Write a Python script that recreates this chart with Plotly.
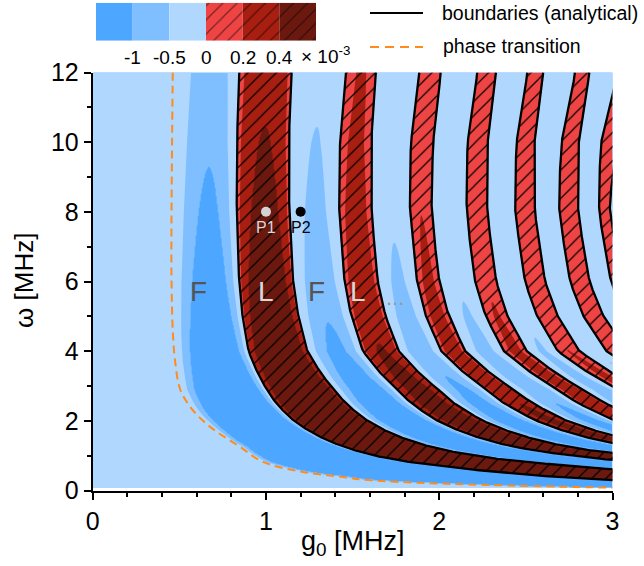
import numpy as np
import plotly.graph_objects as go

# ---------------- values ----------------
# phase transition (orange dashed curve): omega [MHz] and g0 [MHz]
trans_omega = [12.0, 10.0, 8.0, 6.0, 4.5, 3.7, 2.9, 2.4, 2.0, 1.68, 1.25, 0.82, 0.53, 0.39, 0.31, 0.20, 0.08]
trans_g0 = [0.462, 0.458, 0.455, 0.455, 0.463, 0.476, 0.505, 0.563, 0.637, 0.718, 0.851, 0.983,
            1.214, 1.445, 1.56, 2.005, 3.0]

# inner (left / lower) boundary of the first L band
l1_omega = [12, 10, 8, 6, 5, 4, 3.25, 2.5, 2.02, 1.45, 1.11, 0.89, 0.68, 0.5, 0.3]
l1_g0 = [0.846, 0.832, 0.831, 0.845, 0.865, 0.90, 0.965, 1.06, 1.158, 1.35, 1.542, 1.735, 2.062, 2.4, 3.0]

# boundary crossings (left edge, right edge of L1 ... L7) along omega = 8 and omega = 12 MHz
edges_at_8 = [0.831, 1.134, 1.423, 1.61, 1.831, 1.956, 2.158, 2.277,
              2.439, 2.552, 2.693, 2.802, 2.923, 2.985]
edges_at_12 = [0.846, 1.148, 1.462, 1.634, 1.885, 2.008, 2.219, 2.327,
               2.508, 2.60, 2.783, 2.866, 3.03, 3.10]

# colour levels (x 10^-3)
level_values = [-1, -0.5, 0, 0.2, 0.4]
level_labels = ["-1", "-0.5", "0", "0.2", "0.4"]
level_colors = ["#4DA6FF", "#80BFFF", "#B0D8FF", "#EF4444", "#A81E10", "#6B190F"]

amp_L, amp_F = 1.95, 7.44
decay_n, pow_L, pow_F = 0.85, 0.65, 0.9
outside_value = -0.25

# marked points and region labels
point_names = ["P1", "P2"]
point_g0 = [1.0, 1.2]
point_omega = [8.0, 8.0]
point_colors = ["#D4D4D4", "#000000"]

region_text = ["F", "L", "F", "L", "..."]
region_g0 = [0.613, 1.003, 1.289, 1.531, 1.744]
region_omega = [5.7, 5.7, 5.7, 5.7, 5.55]
region_colors = ["#555555", "#D8D8D8", "#555555", "#D8D8D8", "#999999"]

FONT = "Liberation Sans, Arial, sans-serif"
W_PX, H_PX = 644, 566


def g2_of(w, wd, gd):
    wd = np.asarray(wd, float)
    gd = np.asarray(gd, float)
    o = np.argsort(wd)
    lw = np.log(wd[o])
    lg = np.log(gd[o] ** 2)
    x = np.log(np.asarray(w, float))
    y = np.interp(x, lw, lg)
    s_lo = (lg[1] - lg[0]) / (lw[1] - lw[0])
    s_hi = (lg[-1] - lg[-2]) / (lw[-1] - lw[-2])
    y = np.where(x < lw[0], lg[0] + s_lo * (x - lw[0]), y)
    y = np.where(x > lw[-1], lg[-1] + s_hi * (x - lw[-1]), y)
    return np.exp(y)


n_edges = len(edges_at_8)


def row_knots(edges, gc_ref2):
    e2 = np.asarray(edges, float) ** 2
    per = e2[12] - e2[10]
    ext = [e2] + [e2[-2:] + j * per for j in range(1, 8)]
    return np.concatenate([[gc_ref2]] + ext)


phis = -0.5 + 0.5 * np.arange(1 + n_edges + 14)


def phase(g0, w):
    """phase coordinate: band edge k sits at k/2, the transition at -1/2"""
    gc2w = g2_of(w, trans_omega, trans_g0)
    l12w = g2_of(w, l1_omega, l1_g0)
    out = []
    for w_ref, edges in ((8.0, edges_at_8), (12.0, edges_at_12)):
        gcr = float(g2_of(w_ref, trans_omega, trans_g0))
        l1r = float(g2_of(w_ref, l1_omega, l1_g0))
        U = gcr + (g0 ** 2 - gc2w) * (l1r - gcr) / (l12w - gc2w)
        out.append(np.interp(U, row_knots(edges, gcr), phis))
    x = np.clip((w - 8.0) / 4.0, 0, 1)
    t = x * x * (3 - 2 * x)
    return (1 - t) * out[0] + t * out[1], g0 ** 2 < gc2w


# ---------------- field ----------------
gx = np.linspace(0, 3, 521)
wy = np.linspace(0.07, 12, 420)
G, Wm = np.meshgrid(gx, wy)
Phi, outside = phase(G, Wm)
fl = np.floor(Phi)
s = np.sin(2 * np.pi * Phi)
isL = (Phi - fl) < 0.5
nL = np.maximum(fl + 1, 1)
nF = np.maximum(fl + 2, 1)
zL = amp_L * nL ** -decay_n * Wm ** -pow_L * np.sqrt(np.clip(s, 0, None))
zF = amp_F * nF ** -decay_n * Wm ** -pow_F * s
Z = np.where(isL, zL, zF)
Z = np.where(outside, outside_value, Z)
Zi = np.interp(Z, [-50] + level_values + [50], [0, 1, 2, 3, 4, 5, 6])

cs = []
for i, c in enumerate(level_colors):
    cs += [[i / 6, c], [(i + 1) / 6, c]]

fig = go.Figure()
fig.add_trace(go.Contour(
    x=gx, y=wy, z=np.round(Zi, 3), autocontour=False,
    contours=dict(start=1, end=5, size=1, coloring="fill", showlines=False),
    colorscale=cs, showscale=False, line=dict(width=0), hoverinfo="skip"))

# ---------------- band edges (analytical boundaries) ----------------
wl = np.geomspace(0.07, 12, 900)
gfine = np.linspace(0.3, 3.6, 2400)
GF, WF = np.meshgrid(gfine, wl)
PF, OF = phase(GF, WF)
edge_g = np.full((n_edges, len(wl)), 3.6)
for r in range(len(wl)):
    ok = ~OF[r]
    xp, fp = PF[r][ok], gfine[ok]
    for k in range(n_edges):
        edge_g[k, r] = np.interp(k / 2, xp, fp)

hatch = dict(shape="/", size=10, solidity=0.12, fgcolor="black",
             bgcolor="rgba(0,0,0,0)", fillmode="replace")
for n in range(n_edges // 2):
    left, right = edge_g[2 * n], edge_g[2 * n + 1]
    fig.add_trace(go.Scatter(
        x=np.concatenate([left, right[::-1]]), y=np.concatenate([wl, wl[::-1]]),
        fill="toself", fillcolor="rgba(0,0,0,0)", fillpattern=hatch,
        mode="lines", line=dict(width=0), hoverinfo="skip", showlegend=False))

bx, by = [], []
for k in range(n_edges):
    bx += list(np.round(edge_g[k], 4)) + [None]
    by += list(np.round(wl, 4)) + [None]
fig.add_trace(go.Scatter(x=bx, y=by, mode="lines", line=dict(color="black", width=2.3),
                         name="boundaries (analytical)", hoverinfo="skip"))

fig.add_trace(go.Scatter(x=trans_g0, y=trans_omega, mode="lines", line_shape="spline",
                         line=dict(color="#FF8C1A", width=2, dash="8px,5px"),
                         name="phase transition", hoverinfo="skip"))

fig.add_trace(go.Scatter(x=point_g0, y=point_omega, mode="markers",
                         marker=dict(size=10, color=point_colors, line=dict(width=0)),
                         hoverinfo="skip"))

# ---------------- colour bar (inset axes) ----------------
for i, c in enumerate(level_colors):
    kw = {}
    if i >= 3:
        kw["fillpattern"] = dict(shape="/", size=10, solidity=0.12, fgcolor="black", fillmode="overlay")
    fig.add_trace(go.Scatter(x=[i, i + 1, i + 1, i, i], y=[0, 0, 1, 1, 0], xaxis="x2", yaxis="y2",
                             fill="toself", fillcolor=c, mode="lines", line=dict(width=0),
                             hoverinfo="skip", **kw))


def px(x):
    return x / W_PX


def py(y):
    return 1 - y / H_PX


def txt(x, y, text, size, color="black", xanchor="center", ref="paper", **kw):
    return dict(x=x, y=y, xref=ref, yref=ref if ref == "paper" else "y", text=text, showarrow=False,
                font=dict(size=size, family=FONT, color=color), xanchor=xanchor, yanchor="middle", **kw)


ann = []
for k, lab in enumerate(level_labels):
    ann.append(txt(px(96 + 36.67 * (k + 1)), py(57), lab, 19))
ann.append(txt(px(299), py(55), "× 10<sup>-3</sup>", 19, xanchor="left"))
ann.append(txt(px(440), py(13), "boundaries (analytical)", 19.5, xanchor="left"))
ann.append(txt(px(441), py(46), "phase transition", 19.5, xanchor="left"))
for t, gx0, wy0, col in zip(region_text, region_g0, region_omega, region_colors):
    ann.append(txt(gx0, wy0, t, 28 if t != "..." else 22, color=col, ref="x"))
for nme, gx0, wy0, col in zip(point_names, point_g0, point_omega, ["#D8D8D8", "#000000"]):
    ann.append(txt(gx0, wy0, nme, 16, color=col, ref="x", yshift=-16))
ann.append(txt(px(353), py(543), "g<sub>0</sub> [MHz]", 27))
ann.append(txt(px(24), py(281), "ω [MHz]", 26, textangle=-90))

shapes = [
    dict(type="line", xref="paper", yref="paper", x0=px(370), x1=px(423), y0=py(13), y1=py(13),
         line=dict(color="black", width=2.2)),
    dict(type="line", xref="paper", yref="paper", x0=px(370), x1=px(423), y0=py(47), y1=py(47),
         line=dict(color="#FF8C1A", width=2, dash="9px,6px")),
]

axis_common = dict(showline=True, linecolor="black", linewidth=2, ticks="outside", ticklen=7,
                   tickwidth=2, tickcolor="black", showgrid=False, zeroline=False, mirror=False,
                   automargin=False,
                   tickfont=dict(size=25, family=FONT, color="black"), tickmode="linear", tick0=0)

fig.update_layout(
    template="none",
    width=W_PX, height=H_PX, margin=dict(l=0, r=0, t=0, b=0, pad=0), autosize=False,
    paper_bgcolor="white", plot_bgcolor="white", showlegend=False,
    xaxis=dict(domain=[px(92.7), px(612.5)], range=[0, 3], dtick=1,
               minor=dict(ticks="outside", ticklen=4, tickwidth=2, tickcolor="black", dtick=0.2, showgrid=False),
               **axis_common),
    yaxis=dict(domain=[py(490.5), py(72.5)], range=[0, 12], dtick=2,
               minor=dict(ticks="outside", ticklen=4, tickwidth=2, tickcolor="black", dtick=1, showgrid=False),
               **axis_common),
    xaxis2=dict(domain=[px(96), px(316)], range=[0, 6], visible=False, anchor="y2"),
    yaxis2=dict(domain=[py(40.7), py(2.7)], range=[0, 1], visible=False, anchor="x2"),
    annotations=ann, shapes=shapes,
)

fig.write_html("out.html",
               post_script="document.body.style.margin='0';document.body.style.overflow='hidden';")
